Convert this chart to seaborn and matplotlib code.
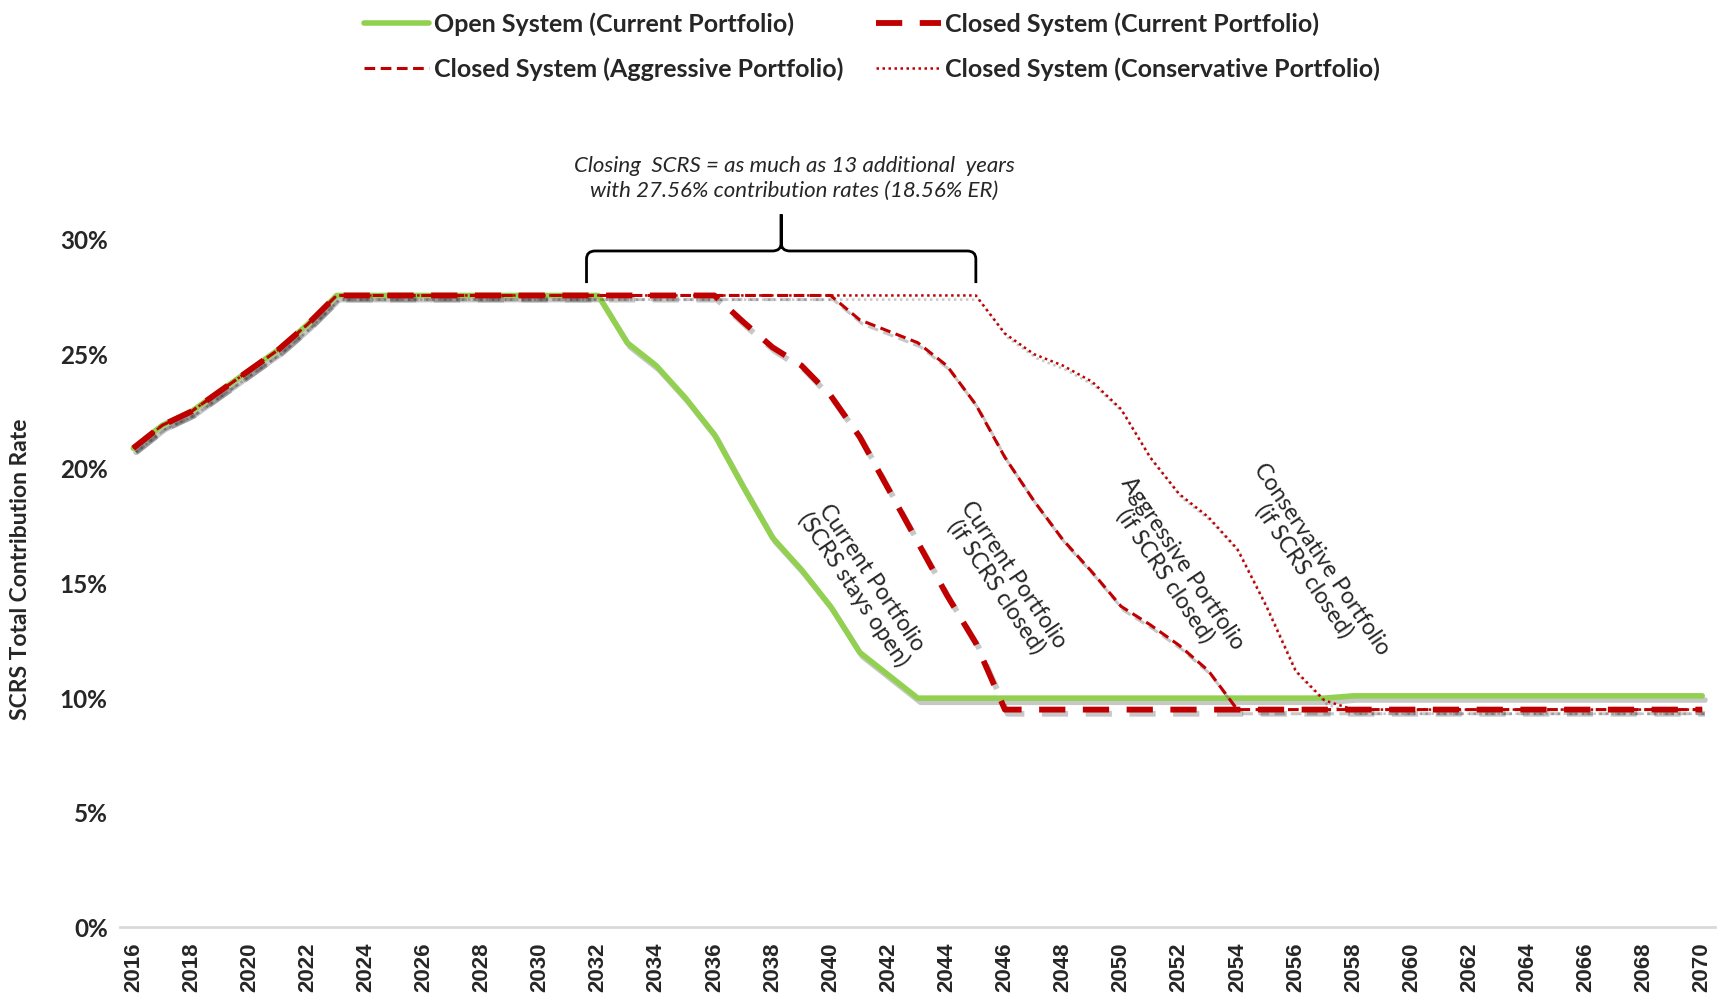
import matplotlib
matplotlib.use("Agg")
import matplotlib.pyplot as plt
import matplotlib.patheffects as pe
from matplotlib.path import Path
from matplotlib.patches import PathPatch
from matplotlib.lines import Line2D
import seaborn as sns
import pandas as pd

# data (contribution rate, %)
years = list(range(2016, 2071))

open_current = [20.9, 21.9, 22.5, 23.4, 24.3, 25.2, 26.3,
                27.56, 27.56, 27.56, 27.56, 27.56, 27.56, 27.56, 27.56, 27.56, 27.56,
                25.5, 24.5, 23.1, 21.5, 19.2, 17.0, 15.6, 14.0, 12.0, 11.0,
                10.0, 10.0, 10.0, 10.0, 10.0, 10.0, 10.0, 10.0, 10.0, 10.0, 10.0, 10.0, 10.0, 10.0, 10.0,
                10.1, 10.1, 10.1, 10.1, 10.1, 10.1, 10.1, 10.1, 10.1, 10.1, 10.1, 10.1, 10.1]

closed_current = [20.9, 21.9, 22.5, 23.4, 24.3, 25.2, 26.3,
                  27.56, 27.56, 27.56, 27.56, 27.56, 27.56, 27.56, 27.56, 27.56, 27.56, 27.56, 27.56, 27.56, 27.56,
                  26.4, 25.3, 24.5, 23.2, 21.4, 19.1, 16.8, 14.5, 12.4,
                  9.5, 9.5, 9.5, 9.5, 9.5, 9.5, 9.5, 9.5, 9.5, 9.5, 9.5, 9.5, 9.5,
                  9.5, 9.5, 9.5, 9.5, 9.5, 9.5, 9.5, 9.5, 9.5, 9.5, 9.5, 9.5]

closed_aggressive = [20.9, 21.9, 22.5, 23.4, 24.3, 25.2, 26.3,
                     27.56, 27.56, 27.56, 27.56, 27.56, 27.56, 27.56, 27.56, 27.56, 27.56,
                     27.56, 27.56, 27.56, 27.56, 27.56, 27.56, 27.56, 27.56,
                     26.5, 26.0, 25.5, 24.5, 22.8, 20.5, 18.6, 16.9, 15.5, 14.0, 13.2, 12.3, 11.2,
                     9.5, 9.5, 9.5, 9.5, 9.5, 9.5, 9.5, 9.5, 9.5, 9.5, 9.5, 9.5, 9.5, 9.5, 9.5, 9.5, 9.5]

closed_conservative = [20.9, 21.9, 22.5, 23.4, 24.3, 25.2, 26.3,
                       27.56, 27.56, 27.56, 27.56, 27.56, 27.56, 27.56, 27.56, 27.56, 27.56, 27.56, 27.56,
                       27.56, 27.56, 27.56, 27.56, 27.56, 27.56, 27.56, 27.56, 27.56, 27.56, 27.56,
                       25.9, 25.0, 24.5, 23.8, 22.6, 20.5, 18.9, 17.9, 16.5, 14.0, 11.2, 9.9,
                       9.5, 9.5, 9.5, 9.5, 9.5, 9.5, 9.5, 9.5, 9.5, 9.5, 9.5, 9.5, 9.5]

series_names = ["Open System (Current Portfolio)",
                "Closed System (Current Portfolio)",
                "Closed System (Aggressive Portfolio)",
                "Closed System (Conservative Portfolio)"]

line_labels = ["Current Portfolio\n(SCRS stays open)",
               "Current Portfolio\n(if SCRS closed)",
               "Aggressive Portfolio\n(if SCRS closed)",
               "Conservative Portfolio\n(if SCRS closed)"]
label_x = [2041.1, 2046.0, 2051.8, 2056.6]
label_y = [15.0, 15.1, 15.6, 15.8]

bracket_note = "Closing  SCRS = as much as 13 additional  years\nwith 27.56% contribution rates (18.56% ER)"

GREEN = "#92D050"
RED = "#C00000"

styles = {
    series_names[0]: dict(color=GREEN, lw=4.0, ls="-"),
    series_names[1]: dict(color=RED, lw=4.2, ls=(0, (4.5, 3.0))),
    series_names[2]: dict(color=RED, lw=2.2, ls=(0, (3.5, 1.8))),
    series_names[3]: dict(color=RED, lw=1.8, ls=(0, (1.0, 1.4))),
}

df = pd.DataFrame({"year": years,
                   series_names[0]: open_current,
                   series_names[1]: closed_current,
                   series_names[2]: closed_aggressive,
                   series_names[3]: closed_conservative})

sns.set_style("white")
plt.rcParams["font.family"] = ["Lato", "DejaVu Sans"]

fig = plt.figure(figsize=(17.17, 10.02), dpi=100)
ax = fig.add_axes([0.070, 0.0744, 0.929, 0.801])

shadow = [pe.SimpleLineShadow(offset=(2, -3), shadow_color="black", alpha=0.22), pe.Normal()]

draw_order = [series_names[0], series_names[3], series_names[2], series_names[1]]
for name in draw_order:
    st = styles[name]
    sns.lineplot(data=df, x="year", y=name, ax=ax, color=st["color"],
                 linewidth=st["lw"], linestyle=st["ls"], solid_joinstyle="round",
                 dash_joinstyle="round", dash_capstyle="butt")
    ax.lines[-1].set_path_effects(shadow)

ax.set_xlim(years[0] - 0.45, years[-1] + 0.45)
ax.set_ylim(0, 35)
ax.set_yticks([0, 5, 10, 15, 20, 25, 30])
ax.set_yticklabels([f"{v}%" for v in [0, 5, 10, 15, 20, 25, 30]],
                   fontsize=17.5, fontweight="bold")
ax.set_xticks(years[::2])
ax.set_xticklabels([str(y) for y in years[::2]], rotation=90,
                   fontsize=16, fontweight="bold", family="Liberation Sans")
ax.tick_params(axis="both", length=0)
ax.tick_params(axis="y", pad=9)
ax.tick_params(axis="x", pad=11)
ax.set_xlabel("")
ax.set_ylabel("SCRS Total Contribution Rate", fontsize=16.5, fontweight="bold")
ax.yaxis.set_label_coords(-0.056, 0.446)

for s in ["top", "right", "left"]:
    ax.spines[s].set_visible(False)
ax.spines["bottom"].set_color("#D9D9D9")
ax.spines["bottom"].set_linewidth(2)

# rotated line labels
for txt, lx, ly in zip(line_labels, label_x, label_y):
    ax.text(lx, ly, txt, rotation=-56, rotation_mode="anchor", ha="center", va="center",
            multialignment="center", fontsize=16.5, linespacing=1.0)

# curly bracket spanning the extra plateau years
left = years[open_current.index(25.5)] - 1.4
right = years[closed_conservative.index(25.9)] - 1.0
mid = (left + right) / 2
y0, y1, y2 = 28.1, 29.5, 31.1
verts = [(left, y0), (left, y1 - 0.35), (left, y1), (left + 0.3, y1),
         (mid - 0.3, y1), (mid, y1), (mid, y1 + 0.35), (mid, y2),
         (mid, y1 + 0.35), (mid, y1), (mid + 0.3, y1),
         (right - 0.3, y1), (right, y1), (right, y1 - 0.35), (right, y0)]
codes = [Path.MOVETO, Path.LINETO, Path.CURVE3, Path.CURVE3,
         Path.LINETO, Path.CURVE3, Path.CURVE3, Path.LINETO,
         Path.LINETO, Path.CURVE3, Path.CURVE3,
         Path.LINETO, Path.CURVE3, Path.CURVE3, Path.LINETO]
ax.add_patch(PathPatch(Path(verts, codes), fill=False, lw=2.0, color="black", capstyle="butt"))
ax.text(mid + 0.45, 32.68, bracket_note, ha="center", va="center", fontsize=16,
        style="italic", linespacing=1.3)

# legend, filled row by row like the reference
legend_order = [series_names[0], series_names[2], series_names[1], series_names[3]]
handles = [Line2D([], [], color=styles[n]["color"], lw=styles[n]["lw"], ls=styles[n]["ls"])
           for n in legend_order]
fig.legend(handles, legend_order, loc="upper center", bbox_to_anchor=(0.508, 1.0), ncol=2,
           frameon=False, handlelength=2.6, handletextpad=0.18, columnspacing=1.3,
           labelspacing=0.85, borderpad=0.0, prop=dict(size=18, weight="bold"))

fig.savefig("out.png", dpi=100)
